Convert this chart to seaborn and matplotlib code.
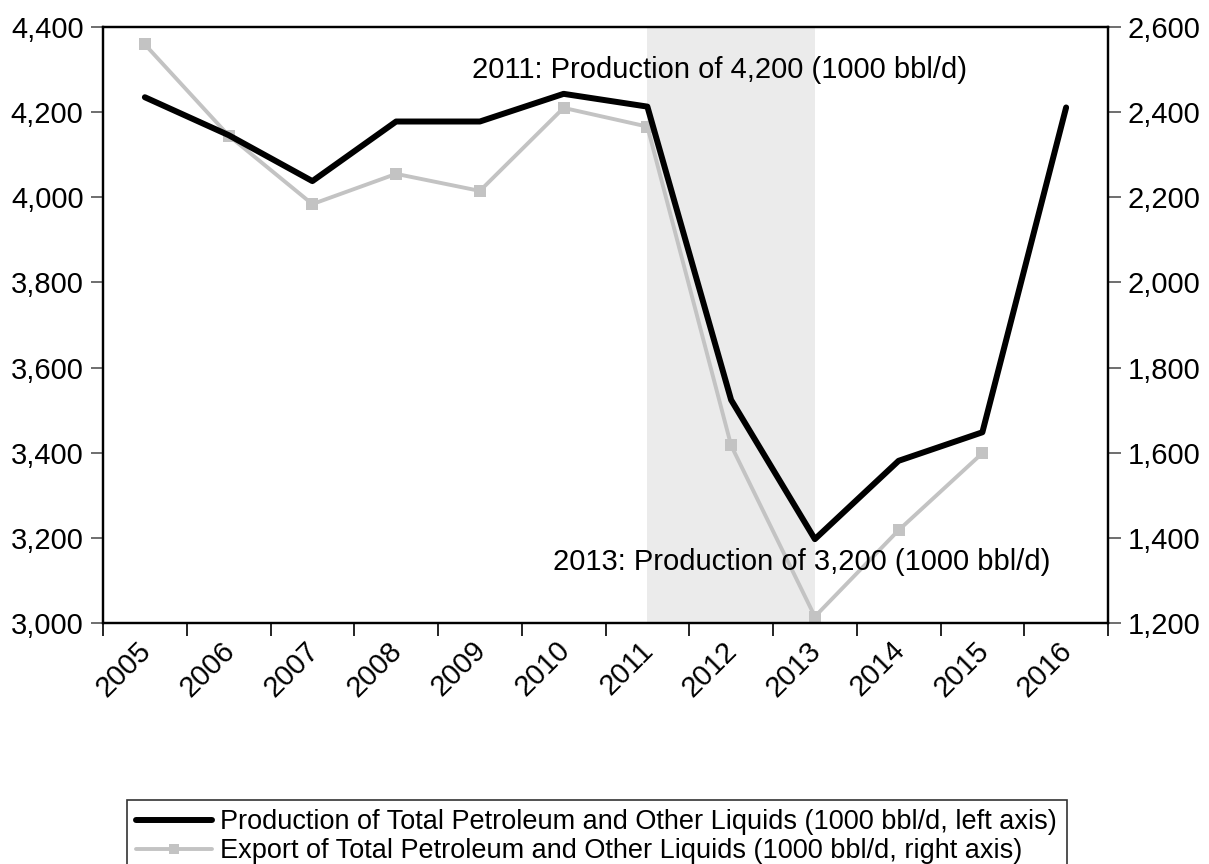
import numpy as np
import pandas as pd
import matplotlib
matplotlib.use("Agg")
import matplotlib.pyplot as plt
import matplotlib.transforms as mtransforms
from matplotlib.ticker import FuncFormatter, FixedLocator
from matplotlib.lines import Line2D
import seaborn as sns

years = [2005, 2006, 2007, 2008, 2009, 2010, 2011, 2012, 2013, 2014, 2015, 2016]
production = [4235, 4146, 4038, 4178, 4178, 4243, 4213, 3524, 3197, 3381, 3448, 4211]
export = [2559, 2345, 2184, 2255, 2215, 2410, 2366, 1617, 1215, 1418, 1599, np.nan]
tick_labels = [str(y) for y in years]
prod_label = "Production of Total Petroleum and Other Liquids (1000 bbl/d, left axis)"
export_label = "Export of Total Petroleum and Other Liquids (1000 bbl/d, right axis)"
shade_span = (2011, 2013)
notes = [("2011: Production of 4,200 (1000 bbl/d)", 2009.41, 4299),
         ("2013: Production of 3,200 (1000 bbl/d)", 2010.37, 3143)]

sns.set_style("white")
plt.rcParams['font.family'] = ['Liberation Sans', 'DejaVu Sans']
plt.rcParams['text.color'] = 'black'
plt.rcParams['xtick.labelcolor'] = 'black'
plt.rcParams['ytick.labelcolor'] = 'black'
FS = 21
LFS = 19.5

df = pd.DataFrame({"x": [y + 0.5 for y in years], "prod": production, "exp": export})

fig = plt.figure(figsize=(12.09, 8.64), dpi=100)
ax = fig.add_axes([103/1209, 1 - 623/864, (1108-103)/1209, (623-27)/864])
ax2 = ax.twinx()

ax2.axvspan(shade_span[0] + 0.5, shade_span[1] + 0.5, color="#EBEBEB", zorder=0, lw=0)

sns.lineplot(data=df, x="x", y="prod", ax=ax, color="black", lw=4.3, legend=False, zorder=3)
sns.lineplot(data=df.dropna(), x="x", y="exp", ax=ax2, color="#C3C3C3", lw=2.8,
             marker="s", markersize=8.5, markeredgewidth=0, legend=False)

ax.set_zorder(ax2.get_zorder() + 1)
ax.patch.set_visible(False)

ax.set_xlim(2005, 2017)
ax.set_ylim(3000, 4400)
ax2.set_ylim(1200, 2600)
ax.set_yticks(np.arange(3000, 4401, 200))
ax2.set_yticks(np.arange(1200, 2601, 200))
fmt = FuncFormatter(lambda v, p: f"{int(v):,}")
ax.yaxis.set_major_formatter(fmt)
ax2.yaxis.set_major_formatter(fmt)
ax.set_xlabel("")
ax2.set_xlabel("")
ax.set_ylabel("")
ax2.set_ylabel("")

ax.xaxis.set_major_locator(FixedLocator([y + 0.5 for y in years]))
ax.set_xticklabels(tick_labels, rotation=45, ha="right", rotation_mode="anchor")
ax.xaxis.set_minor_locator(FixedLocator(list(range(2005, 2018))))
ax.tick_params(axis="x", which="major", length=0, pad=9.5, labelsize=FS, bottom=True, labelcolor="black")
ax.tick_params(axis="x", which="minor", length=9, width=1.2, direction="out", bottom=True, color="black")
ax.tick_params(axis="y", which="major", length=9, width=1.2, direction="out", left=True, labelsize=FS, color="#555555", pad=5, labelcolor="black")
ax2.tick_params(axis="y", which="major", length=9, width=1.2, direction="out", right=True, labelsize=FS, color="#555555", pad=5, labelcolor="black")

offset = mtransforms.ScaledTranslation(-8/100, 0, fig.dpi_scale_trans)
for lab in ax.get_xticklabels():
    lab.set_transform(lab.get_transform() + offset)

for a in (ax, ax2):
    for s in a.spines.values():
        s.set_color("black")
        s.set_linewidth(1.6)

for txt, x, y in notes:
    ax.text(x, y, txt, fontsize=FS, va="center", ha="left", zorder=5, color="black")

handles = [Line2D([], [], color="black", lw=4.3),
           Line2D([], [], color="#C3C3C3", lw=2.8, marker="s", markersize=7, markeredgewidth=0)]
leg = fig.legend(handles, [prod_label, export_label], loc="upper left",
                 bbox_to_anchor=(127/1209, 1 - 800/864), fontsize=LFS, frameon=True,
                 fancybox=False, edgecolor="black", handlelength=2.8, handletextpad=0.3,
                 borderpad=0.35, labelspacing=0.1, borderaxespad=0)
leg.get_frame().set_linewidth(1.2)
for t in leg.get_texts():
    t.set_color("black")

fig.savefig("out.png", dpi=100)
